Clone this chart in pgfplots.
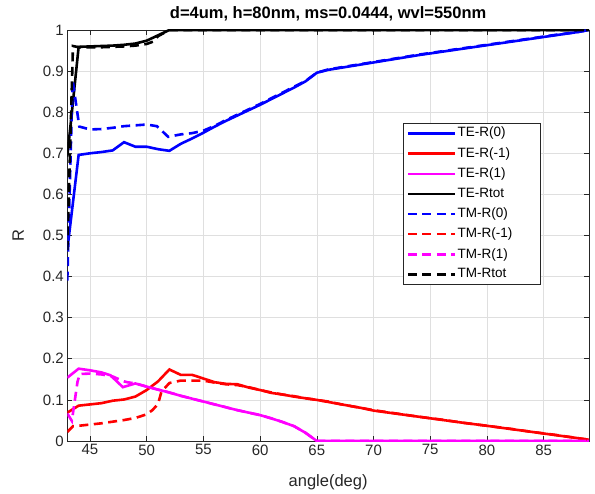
\documentclass[border=0pt]{standalone}
\usepackage{fontspec}
\setmainfont{Liberation Sans}
\usepackage{pgfplots}
\pgfplotsset{compat=1.18}

\definecolor{axgray}{gray}{0.15}
\definecolor{gridgray}{gray}{0.875}
\definecolor{mag}{rgb}{1,0,1}
\newcommand{\lgent}[1]{\makebox[78pt][l]{#1}}

\begin{document}
\begin{tikzpicture}
\begin{axis}[
  scale only axis,
  width=521.7pt, height=411pt,
  xmin=43, xmax=89, ymin=0, ymax=1,
  xtick={45,50,55,60,65,70,75,80,85},
  ytick={0,0.1,0.2,0.3,0.4,0.5,0.6,0.7,0.8,0.9,1},
  grid=major,
  major grid style={draw=gridgray, line width=0.6pt},
  axis line style={draw=axgray, line width=0.6pt},
  tick align=inside,
  major tick length=5pt,
  every tick/.style={draw=axgray, line width=0.6pt},
  tick label style={font=\fontsize{15}{18}\selectfont, text=axgray,
    /pgf/number format/assume math mode=true},
  yticklabel style={/pgf/number format/fixed},
  every axis title/.style={at={(0.5,1)}, anchor=base, yshift=11pt,
    font=\bfseries\fontsize{16.5}{19}\selectfont},
  title={d=4um, h=80nm, ms=0.0444, wvl=550nm},
  every axis x label/.style={at={(axis description cs:0.5,0)}, anchor=base,
    yshift=-45.7pt, text=axgray, font=\fontsize{16.5}{19}\selectfont},
  every axis y label/.style={at={(axis description cs:-0.094,0.5)}, anchor=center,
    rotate=90, text=axgray, font=\fontsize{16.5}{19}\selectfont},
  xlabel={angle(deg)}, ylabel={R},
  legend cell align=left,
  legend image code/.code={\draw[#1, line width=2.6pt] (0pt,0pt) -- (47pt,0pt);},
  legend style={at={(0.644,0.773)}, anchor=north west, draw=axgray,
    line width=0.6pt, fill=white, inner xsep=3pt, inner ysep=2pt,
    font=\fontsize{13.5}{16}\selectfont, row sep=5pt,
    nodes={inner sep=1.5pt, text depth=0.25em}},
  every axis plot/.append style={line width=2.6pt},
  tmdash/.style={dash pattern=on 9pt off 5.5pt},
]
% TE-R(0)
\addplot[blue] coordinates {
 (43,0.465) (44,0.696) (45,0.700) (46,0.703) (47,0.707) (48,0.727) (49,0.716)
 (50,0.716) (51,0.710) (52,0.706) (53,0.723) (54,0.736) (55,0.750) (56,0.765)
 (57,0.779) (58,0.792) (59,0.805) (60,0.818) (61,0.832) (62,0.846) (63,0.860)
 (64,0.875) (65,0.896) (66,0.903) (68,0.912) (70,0.921) (72,0.930) (74,0.939)
 (76,0.947) (78,0.955) (80,0.963) (82,0.971) (84,0.979) (86,0.987) (88,0.995) (89,1.0)
};
\addlegendentry{\lgent{TE-R(0)}}
% TE-R(-1)
\addplot[red] coordinates {
 (43,0.069) (44,0.086) (45,0.089) (46,0.092) (47,0.098) (48,0.101) (49,0.108)
 (50,0.124) (51,0.145) (52,0.174) (53,0.161) (54,0.161) (55,0.152) (56,0.143)
 (57,0.139) (58,0.138) (59,0.130) (60,0.124) (61,0.117) (62,0.113) (63,0.108)
 (64,0.104) (65,0.100) (66,0.095) (67,0.090) (68,0.085) (69,0.080) (70,0.074)
 (72,0.0665) (74,0.059) (76,0.0515) (78,0.044) (80,0.037) (82,0.0295) (84,0.022)
 (86,0.0145) (88,0.007) (89,0.003)
};
\addlegendentry{\lgent{TE-R(-1)}}
% TE-R(1)
\addplot[mag] coordinates {
 (43,0.154) (44,0.176) (45,0.172) (46,0.167) (46.8,0.160) (47.9,0.131) (49,0.140)
 (50.3,0.130) (51,0.125) (52,0.118) (53,0.110) (54,0.103) (55,0.096) (56,0.089)
 (57,0.082) (58,0.075) (59,0.069) (60,0.063) (61,0.055) (62,0.046) (63,0.036)
 (64,0.020) (65,0.0) (70,0.0) (80,0.0) (89,0.0)
};
\addlegendentry{\lgent{TE-R(1)}}
% TE-Rtot
\addplot[black] coordinates {
 (43,0.692) (44,0.959) (45,0.960) (46,0.961) (47,0.962) (48,0.964) (49,0.967)
 (50,0.974) (51,0.987) (52,1.0) (60,1.0) (70,1.0) (80,1.0) (89,1.0)
};
\addlegendentry{\lgent{TE-Rtot}}
% TM-R(0)
\addplot[blue, tmdash] coordinates {
 (43,0.39) (43.47,0.878) (44.06,0.765) (45,0.758) (46,0.759) (47,0.762) (48,0.766)
 (49,0.768) (50,0.770) (50.9,0.766) (51.9,0.740) (53,0.746) (54,0.749) (55,0.755)
 (56,0.767) (57,0.781) (58,0.794) (59,0.807) (60,0.820) (61,0.834) (62,0.848)
 (63,0.862) (64,0.876) (65,0.896) (66,0.904) (68,0.913) (70,0.922) (72,0.931)
 (74,0.940) (76,0.948) (78,0.956) (80,0.964) (82,0.972) (84,0.980) (86,0.988)
 (88,0.995) (89,1.0)
};
\addlegendentry{\lgent{TM-R(0)}}
% TM-R(-1)
\addplot[red, tmdash] coordinates {
 (43,0.022) (43.5,0.036) (44,0.037) (45,0.040) (46,0.043) (47,0.047) (48,0.051)
 (49,0.056) (50,0.065) (50.5,0.075) (51,0.090) (51.3,0.120) (52,0.141) (53,0.147)
 (54,0.147) (55,0.147) (56,0.142) (57,0.138) (58,0.136) (59,0.131) (60,0.124)
 (61,0.118) (62,0.113) (63,0.109) (64,0.104) (65,0.100) (66,0.096) (67,0.090)
 (68,0.085) (69,0.080) (70,0.075) (72,0.067) (74,0.059) (76,0.052) (78,0.044)
 (80,0.037) (82,0.030) (84,0.022) (86,0.015) (88,0.007) (89,0.003)
};
\addlegendentry{\lgent{TM-R(-1)}}
% TM-R(1)
\addplot[mag, tmdash] coordinates {
 (43,0.067) (43.4,0.049) (43.9,0.144) (44.1,0.163) (45,0.164) (46,0.162) (47,0.157)
 (48,0.145) (48.3,0.143) (49,0.140) (50.3,0.130) (51,0.125) (52,0.118) (53,0.110)
 (54,0.103) (55,0.096) (56,0.089) (57,0.082) (58,0.075) (59,0.069) (60,0.063)
 (61,0.055) (62,0.046) (63,0.036) (64,0.020) (65,0.0) (70,0.0) (80,0.0) (89,0.0)
};
\addlegendentry{\lgent{TM-R(1)}}
% TM-Rtot
\addplot[black, tmdash] coordinates {
 (43,0.465) (43.5,0.961) (44,0.958) (45,0.958) (46,0.958) (47,0.959) (48,0.960)
 (49,0.962) (50,0.966) (50.6,0.972) (51,0.985) (52,1.0) (60,1.0) (70,1.0) (80,1.0) (89,1.0)
};
\addlegendentry{\lgent{TM-Rtot}}
\end{axis}
\path ([shift={(-67.3pt,-52pt)}]current axis.south west) rectangle ([shift={(6pt,30pt)}]current axis.north east);
\end{tikzpicture}
\end{document}
